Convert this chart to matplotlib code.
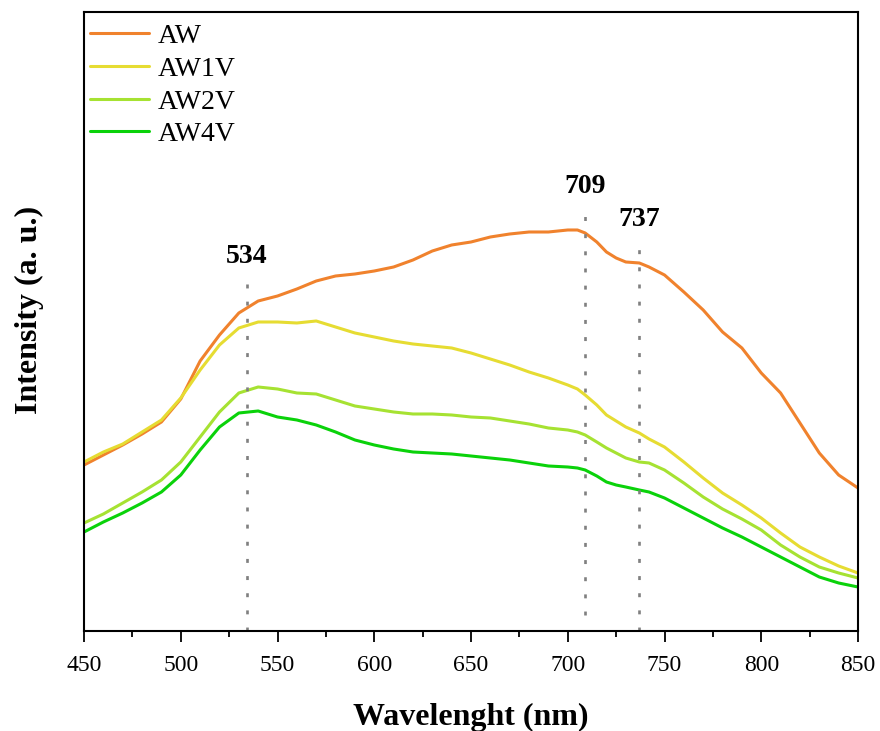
import matplotlib
matplotlib.use("Agg")
import matplotlib.pyplot as plt
from matplotlib.ticker import MultipleLocator

plt.rcParams['font.family'] = ['Liberation Serif', 'DejaVu Serif']
plt.rcParams['mathtext.fontset'] = 'stix'

# Emission spectra (arbitrary intensity units)
wavelength = [450, 460, 470, 480, 490, 500, 510, 520, 530, 540, 550, 560, 570,
              580, 590, 600, 610, 620, 630, 640, 650, 660, 670, 680, 690, 700,
              705, 709, 715, 720, 725, 730, 737, 742, 750, 760, 770, 780, 790,
              800, 810, 820, 830, 840, 850]

aw = [166, 176, 186, 197, 209, 232, 270, 296, 318, 330, 335, 342, 350, 355, 357,
      360, 364, 371, 380, 386, 389, 394, 397, 399, 399, 401, 401, 398, 389, 379,
      373, 369, 368, 364, 356, 339, 321, 299, 283, 258, 238, 208, 178, 156, 143]

aw1v = [169, 179, 187, 199, 211, 233, 261, 286, 303, 309, 309, 308, 310, 304, 298,
        294, 290, 287, 285, 283, 278, 272, 266, 259, 253, 246, 242, 236, 226, 216,
        210, 204, 198, 192, 184, 169, 153, 138, 126, 113, 98, 84, 74, 65, 58]

aw2v = [108, 117, 128, 139, 151, 169, 194, 219, 238, 244, 242, 238, 237, 231, 225,
        222, 219, 217, 217, 216, 214, 213, 210, 207, 203, 201, 199, 196, 189, 183,
        178, 173, 169, 168, 161, 148, 134, 122, 112, 101, 86, 74, 64, 58, 53]

aw4v = [99, 109, 118, 128, 139, 156, 181, 204, 218, 220, 214, 211, 206, 199, 191,
        186, 182, 179, 178, 177, 175, 173, 171, 168, 165, 164, 163, 161, 155, 149,
        146, 144, 141, 139, 133, 123, 113, 103, 94, 84, 74, 64, 54, 48, 44]

series_names = ["AW", "AW1V", "AW2V", "AW4V"]
series_colors = ["#F0822D", "#E6DC32", "#A6E232", "#0AD20A"]

# Marked peak positions and the heights of their guide lines / labels
peak_positions = [534, 709, 737]
peak_line_bottom = [0, 16, 0]
peak_line_top = [359, 426, 394]
peak_label_y = [374, 444, 411]

fig = plt.figure(figsize=(8.8, 7.31), dpi=100)
ax = fig.add_axes([0.0955, 0.1368, 0.8795, 0.8468])

for name, vals, col in zip(series_names, [aw, aw1v, aw2v, aw4v], series_colors):
    ax.plot(wavelength, vals, color=col, lw=2.2, label=name,
            solid_joinstyle='round', solid_capstyle='round')

for pos, y0, y1, ly in zip(peak_positions, peak_line_bottom, peak_line_top, peak_label_y):
    ax.plot([pos, pos], [y0, y1], color='#808080', lw=1.9,
            linestyle=(0, (1.5, 5.0)))
    ax.text(pos, ly, str(pos), ha='center', va='center', fontsize=20,
            fontweight='bold')

ax.set_xlim(450, 850)
ax.set_ylim(0, 619)
ax.xaxis.set_major_locator(MultipleLocator(50))
ax.xaxis.set_minor_locator(MultipleLocator(25))
ax.set_yticks([])
ax.tick_params(axis='x', which='major', direction='out', length=8, width=1.3,
               labelsize=17, pad=9)
ax.tick_params(axis='x', which='minor', direction='out', length=4, width=1.3)
for sp in ax.spines.values():
    sp.set_linewidth(1.5)

ax.set_xlabel("Wavelenght (nm)", fontsize=23, fontweight='bold', labelpad=20)
ax.set_ylabel("Intensity (a. u.)", fontsize=23, fontweight='bold', labelpad=29)
ax.yaxis.label.set_y(0.518)

ax.legend(loc='upper left', frameon=False, fontsize=20, handlelength=2.15,
          handletextpad=0.3, labelspacing=0.26, borderaxespad=0.0, borderpad=0.2,
          bbox_to_anchor=(0.0, 0.99))

fig.savefig("out.png", dpi=100)
